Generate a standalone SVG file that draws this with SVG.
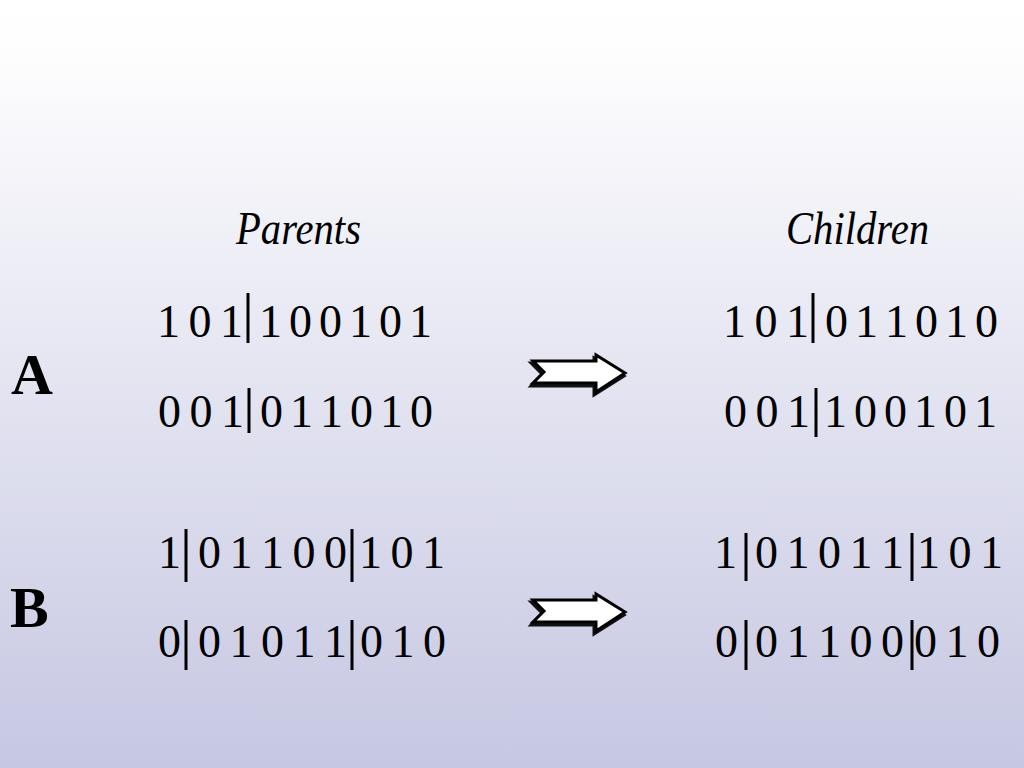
<svg xmlns="http://www.w3.org/2000/svg" width="1024" height="768" viewBox="0 0 1024 768">
<defs>
<linearGradient id="bg" x1="0" y1="0" x2="0" y2="1">
<stop offset="0" stop-color="#ffffff"/>
<stop offset="0.08" stop-color="#fdfdfe"/>
<stop offset="1" stop-color="#c6c7e2"/>
</linearGradient>
<g id="arrow">
<polygon points="531,363 542,374 531,386 594,386 594,395 624,376 594,358 594,363" fill="#222" stroke="#111" stroke-width="3" stroke-linejoin="miter"/>
<polygon points="533,361 544,372 533,383 596,383 596,392 625,373 596,355 596,361" fill="#ffffff" stroke="#000" stroke-width="3" stroke-linejoin="miter"/>
</g>
</defs>
<style>
.d{font-family:"Liberation Serif","Times New Roman",serif;font-size:46px;word-spacing:-3px;fill:#000}
.n{word-spacing:-4.5px}
.t{font-family:"Liberation Serif","Times New Roman",serif;font-size:46px;font-style:italic;fill:#000}
.l{font-family:"Liberation Serif","Times New Roman",serif;font-size:58px;font-weight:bold;fill:#000}
.bar{stroke:#000;stroke-width:3}
</style>
<rect x="0" y="0" width="1024" height="768" fill="url(#bg)"/>

<g id="titles">
<text class="t" x="236" y="244" textLength="125" lengthAdjust="spacingAndGlyphs">Parents</text>
<text class="t" x="786" y="244" textLength="143" lengthAdjust="spacingAndGlyphs">Children</text>
</g>

<g id="labelA"><text class="l" x="11" y="394">A</text></g>
<g id="labelB"><text class="l" x="10" y="627">B</text></g>

<g id="parentsA">
<text class="d" x="157" y="337">1 0 1</text>
<line class="bar" x1="248" y1="293" x2="248" y2="343"/>
<text class="d n" x="259" y="337">1 0 0 1 0 1</text>
<text class="d" x="158" y="427">0 0 1</text>
<line class="bar" x1="249" y1="388" x2="249" y2="433"/>
<text class="d n" x="260" y="427">0 1 1 0 1 0</text>
</g>

<g id="childrenA">
<text class="d" x="723" y="337">1 0 1</text>
<line class="bar" x1="813" y1="293" x2="813" y2="343"/>
<text class="d n" x="825" y="337">0 1 1 0 1 0</text>
<text class="d" x="724" y="427">0 0 1</text>
<line class="bar" x1="816" y1="388" x2="816" y2="437"/>
<text class="d n" x="824" y="427">1 0 0 1 0 1</text>
</g>

<g id="parentsB">
<text class="d" x="158" y="568">1</text>
<line class="bar" x1="186" y1="529" x2="186" y2="582"/>
<text class="d" x="198" y="568">0 1 1 0 0</text>
<line class="bar" x1="352" y1="529" x2="352" y2="582"/>
<text class="d" x="359" y="568">1 0 1</text>
<text class="d" x="158" y="657">0</text>
<line class="bar" x1="186" y1="620" x2="186" y2="670"/>
<text class="d" x="198" y="657">0 1 0 1 1</text>
<line class="bar" x1="352" y1="620" x2="352" y2="670"/>
<text class="d" x="360" y="657">0 1 0</text>
</g>

<g id="childrenB">
<text class="d" x="714" y="568">1</text>
<line class="bar" x1="746" y1="533" x2="746" y2="581"/>
<text class="d" x="755" y="568">0 1 0 1 1</text>
<line class="bar" x1="912" y1="533" x2="912" y2="581"/>
<text class="d" x="917" y="568">1 0 1</text>
<text class="d" x="715" y="657">0</text>
<line class="bar" x1="746" y1="620" x2="746" y2="670"/>
<text class="d" x="755" y="657">0 1 1 0 0</text>
<line class="bar" x1="912" y1="620" x2="912" y2="670"/>
<text class="d" x="914" y="657">0 1 0</text>
</g>

<g id="connectors">
<use href="#arrow"/>
<use href="#arrow" transform="translate(0,239)"/>
</g>
</svg>
